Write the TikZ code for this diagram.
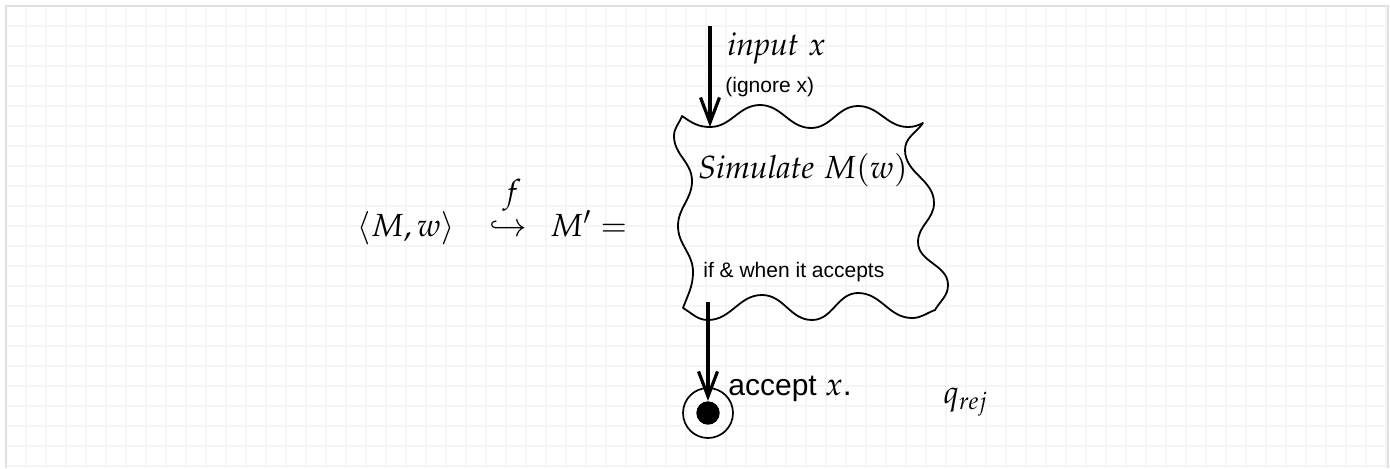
\documentclass[tikz,border=0pt]{standalone}
\usepackage{amsmath}
\usepackage{mathpazo}
\usepackage[no-math]{fontspec}
\newfontfamily\arialf{Liberation Sans}
\usetikzlibrary{arrows.meta}
\newcommand\mathsz{\fontsize{16}{19}\selectfont}
\begin{document}
\begin{tikzpicture}[x=0.5pt,y=0.5pt,
  gridline/.style={draw=black!4,line width=0.9pt},
  frameline/.style={draw=black!12,line width=0.6pt},
  boxline/.style={draw=black,line width=0.9pt,line join=round},
  bigarrow/.style={draw=black,line width=1.75pt,-{Straight Barb[length=12.5pt,width=9.5pt,line width=1.6pt]}},
  mtxt/.style={inner sep=0pt,anchor=base west,font=\mathsz},
  stxt/.style={inner sep=0pt,anchor=base west,font=\arialf\fontsize{10.5}{12}\selectfont},
  btxt/.style={inner sep=0pt,anchor=base west,font=\arialf\fontsize{15}{18}\selectfont},
  ring/.style={circle,draw=black,line width=0.85pt,minimum size=25pt,inner sep=0pt},
  dotnode/.style={circle,fill=black,minimum size=11.7pt,inner sep=0pt}
]
\useasboundingbox (0,0) rectangle (1390,468);
\fill[white] (0,0) rectangle (1390,468);
% grid
\foreach \gx in {26,46,...,1386} \draw[gridline] (\gx,0) -- (\gx,462);
\foreach \gy in {442,422,...,2} \draw[gridline] (6,\gy) -- (1388,\gy);
\draw[frameline] (6,0) -- (6,462) -- (1388,462) -- (1388,0);

% wavy box
\draw[boxline] (682,352) to[out=-35,in=180] (710,341) to[out=0,in=180] (760,363)
  to[out=0,in=180] (811,340) to[out=0,in=180] (858,362) to[out=0,in=180] (908,341)
  to[out=0,in=-155] (923,345)
  to[out=-125,in=90] (905,318) to[out=-90,in=90] (934,265) to[out=-90,in=90] (918,226)
  to[out=-90,in=90] (948,183) to[out=-90,in=60] (935,158)
  to[out=-160,in=0] (912,150) to[out=180,in=0] (858,175) to[out=180,in=0] (812,148)
  to[out=180,in=0] (762,173) to[out=180,in=0] (708,148) to[out=180,in=-30] (683,160)
  to[out=70,in=-90] (693,196) to[out=90,in=-90] (678,242) to[out=90,in=-90] (692,287)
  to[out=90,in=-90] (674,332) to[out=90,in=-110] (682,352) -- cycle;

% texts
\node[mtxt] (inlabel) at (727,413) {$\mathit{input}\ x$};
\node[stxt] (ignore) at (725,375.5) {(ignore x)};
\node[mtxt] (sim) at (698,290) {$\mathit{Simulate}\ M(w)$};
\node[stxt] (ifwhen) at (703,190.5) {if \& when it accepts};
\node[mtxt] (mw) at (357,232) {$\langle M, w\rangle$};
\node[inner sep=0pt,anchor=base,font=\mathsz] (fname) at (512,266) {$f$};
\node[inner sep=0pt,anchor=base,font=\mathsz] (hook) at (508,232) {$\hookrightarrow$};
\node[mtxt] (mprime) at (550,232) {$M' =$};
\node[mtxt] (qrej) at (943,65) {$q_{rej}$};
\node[btxt] (acclabel) at (728,72.5) {accept {\mathsz$x$.}};

% accept state
\node[ring] (acc) at (708,55) {};
\node[dotnode] (dot) at (708,55) {};

% connectors
\coordinate (inStart) at (710,442);
\coordinate (inTip) at (710,341);
\coordinate (outStart) at (708,166);
\draw[bigarrow] (inStart) -- (inTip);
\draw[bigarrow] (outStart) -- (dot);
\end{tikzpicture}
\end{document}
